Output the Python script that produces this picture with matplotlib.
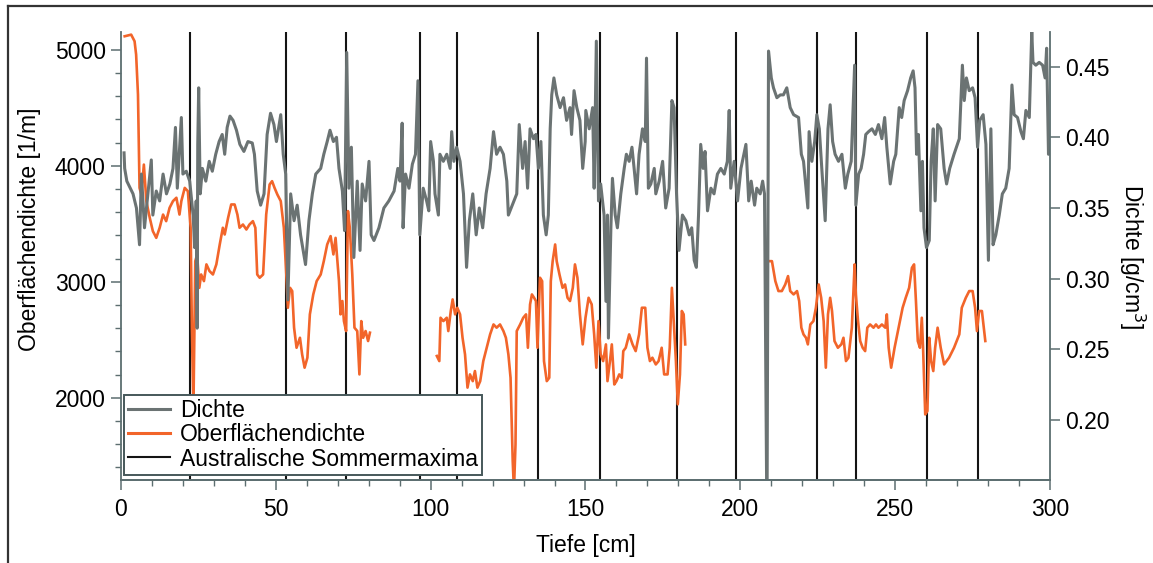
import numpy as np
import matplotlib
matplotlib.use('Agg')
import matplotlib.pyplot as plt
from matplotlib.ticker import MultipleLocator, FormatStrFormatter
from matplotlib.lines import Line2D

plt.rcParams['font.family'] = ['Liberation Sans', 'DejaVu Sans']
plt.rcParams['font.size'] = 16.5

# Dichte [g/cm^3] (right axis)
dichte_x = [1.0, 1.2, 1.9, 3.9, 5.0, 6.0, 6.6, 7.6, 8.7, 9.8, 10.3, 11.4, 12.5, 13.6, 14.7, 15.8, 16.8, 17.6,
            18.2, 19.5, 20.0, 21.1, 22.2, 23.3, 23.8, 24.3, 24.6, 24.8, 25.1, 25.6, 26.3, 27.4, 28.5, 29.5,
            30.6, 31.7, 32.7, 33.5, 34.3, 35.2, 36.2, 37.3, 38.4, 39.7, 41.0, 42.4, 43.1, 44.0, 45.1, 46.2,
            47.2, 48.3, 49.4, 50.2, 51.6, 52.4, 53.2, 53.9, 54.8, 55.9, 56.9, 58.0, 59.6, 60.7, 61.8, 62.9,
            64.5, 65.5, 66.6, 67.5, 68.6, 69.6, 70.4, 71.5, 72.2, 72.9, 73.6, 74.4, 75.2, 76.3, 77.2, 77.9,
            79.0, 80.1, 80.8, 81.7, 83.3, 84.9, 86.5, 88.2, 89.4, 90.1, 90.8, 91.1, 91.9, 93.0, 94.1, 95.1,
            95.9, 96.5, 97.6, 98.7, 99.4, 100.0, 100.9, 101.4, 102.5, 103.0, 104.1, 105.2, 106.3, 106.8,
            107.5, 108.4, 109.5, 110.6, 111.6, 112.5, 113.6, 114.7, 115.7, 116.8, 117.9, 119.2, 120.3,
            121.3, 122.4, 123.5, 124.6, 125.1, 127.8, 128.6, 129.7, 130.5, 131.3, 132.1, 133.2, 134.0,
            134.8, 135.6, 136.4, 137.3, 138.0, 138.6, 139.1, 139.8, 140.7, 141.8, 142.9, 143.9, 145.0,
            145.5, 146.3, 147.2, 148.2, 149.1, 149.9, 150.1, 151.2, 152.3, 152.8, 153.5, 154.2, 154.9,
            156.0, 156.6, 157.1, 157.4, 158.2, 158.7, 159.6, 160.3, 161.4, 162.5, 163.2, 164.1, 165.0,
            165.7, 166.5, 167.3, 168.4, 169.3, 169.7, 170.3, 171.1, 172.2, 172.7, 173.8, 174.9, 175.9,
            177.0, 177.9, 178.6, 179.4, 180.2, 181.3, 182.4, 183.5, 184.3, 185.1, 185.8, 186.5, 187.2,
            188.0, 188.6, 189.4, 190.5, 191.5, 192.6, 193.7, 194.8, 195.8, 196.4, 196.9, 198.0, 199.1,
            200.2, 201.8, 202.7, 203.5, 204.6, 205.3, 206.4, 207.2, 207.8, 208.6, 209.1, 210.0, 210.7,
            211.8, 212.9, 213.9, 215.0, 216.1, 217.2, 218.8, 219.7, 220.4, 221.2, 221.8, 222.2, 223.1,
            224.0, 224.7, 225.5, 226.3, 227.4, 228.3, 229.0, 229.8, 230.6, 231.7, 232.8, 233.9, 234.7,
            235.8, 236.9, 237.3, 238.2, 239.0, 239.8, 240.5, 241.4, 242.5, 243.6, 244.6, 245.7, 246.6,
            247.3, 248.4, 249.5, 250.2, 251.3, 252.1, 252.9, 254.0, 255.0, 255.8, 256.4, 256.9, 257.5,
            258.3, 258.8, 259.3, 260.1, 261.0, 261.6, 262.3, 262.9, 263.7, 264.7, 265.8, 266.6, 267.6,
            269.0, 270.7, 271.7, 272.3, 273.0, 273.9, 275.0, 275.8, 276.6, 277.3, 278.4, 279.3, 280.1,
            280.9, 281.6, 282.5, 283.6, 284.6, 285.7, 286.8, 287.7, 288.4, 289.5, 290.6, 291.4, 292.2,
            293.3, 294.1, 294.5, 295.4, 296.5, 297.6, 298.4, 298.9, 299.5, 300.0]
dichte_y = [0.389, 0.378, 0.369, 0.360, 0.350, 0.324, 0.374, 0.336, 0.360, 0.384, 0.345, 0.362, 0.355, 0.374,
            0.360, 0.367, 0.378, 0.407, 0.364, 0.414, 0.374, 0.376, 0.369, 0.345, 0.322, 0.355, 0.265, 0.395,
            0.435, 0.360, 0.378, 0.369, 0.383, 0.376, 0.388, 0.397, 0.402, 0.388, 0.407, 0.415, 0.412, 0.405,
            0.395, 0.390, 0.397, 0.396, 0.388, 0.362, 0.352, 0.360, 0.402, 0.417, 0.409, 0.397, 0.416, 0.388,
            0.374, 0.285, 0.360, 0.341, 0.352, 0.331, 0.310, 0.341, 0.360, 0.374, 0.378, 0.388, 0.397, 0.405,
            0.397, 0.400, 0.378, 0.362, 0.334, 0.460, 0.364, 0.393, 0.315, 0.369, 0.320, 0.367, 0.355, 0.383,
            0.331, 0.327, 0.336, 0.350, 0.355, 0.362, 0.378, 0.369, 0.410, 0.336, 0.374, 0.364, 0.381, 0.388,
            0.440, 0.331, 0.364, 0.355, 0.348, 0.397, 0.383, 0.360, 0.345, 0.388, 0.383, 0.388, 0.378, 0.404,
            0.383, 0.393, 0.383, 0.360, 0.308, 0.341, 0.360, 0.331, 0.350, 0.336, 0.360, 0.378, 0.404, 0.388,
            0.393, 0.388, 0.369, 0.345, 0.360, 0.409, 0.378, 0.397, 0.364, 0.406, 0.399, 0.402, 0.378, 0.397,
            0.345, 0.331, 0.345, 0.406, 0.430, 0.442, 0.430, 0.421, 0.428, 0.412, 0.421, 0.402, 0.433, 0.421,
            0.412, 0.378, 0.397, 0.419, 0.406, 0.421, 0.364, 0.468, 0.355, 0.367, 0.345, 0.284, 0.345, 0.258,
            0.336, 0.371, 0.345, 0.336, 0.360, 0.378, 0.388, 0.383, 0.393, 0.378, 0.360, 0.388, 0.406, 0.397,
            0.456, 0.364, 0.367, 0.378, 0.360, 0.369, 0.383, 0.350, 0.364, 0.426, 0.421, 0.360, 0.320, 0.345,
            0.341, 0.331, 0.336, 0.313, 0.308, 0.345, 0.395, 0.378, 0.390, 0.348, 0.364, 0.360, 0.374, 0.378,
            0.374, 0.383, 0.419, 0.364, 0.383, 0.355, 0.378, 0.395, 0.355, 0.369, 0.352, 0.364, 0.360, 0.369,
            0.360, 0.120, 0.461, 0.442, 0.435, 0.428, 0.430, 0.430, 0.435, 0.421, 0.416, 0.414, 0.388, 0.383,
            0.364, 0.350, 0.404, 0.383, 0.397, 0.416, 0.406, 0.378, 0.341, 0.406, 0.423, 0.397, 0.388, 0.383,
            0.388, 0.364, 0.374, 0.383, 0.451, 0.352, 0.374, 0.378, 0.388, 0.402, 0.404, 0.406, 0.402, 0.409,
            0.399, 0.414, 0.393, 0.367, 0.383, 0.388, 0.421, 0.414, 0.426, 0.433, 0.442, 0.447, 0.435, 0.388,
            0.402, 0.348, 0.383, 0.336, 0.322, 0.327, 0.383, 0.406, 0.355, 0.409, 0.406, 0.378, 0.367, 0.378,
            0.388, 0.399, 0.451, 0.426, 0.442, 0.433, 0.435, 0.428, 0.393, 0.412, 0.416, 0.395, 0.313, 0.406,
            0.324, 0.331, 0.345, 0.360, 0.364, 0.378, 0.437, 0.416, 0.414, 0.404, 0.399, 0.419, 0.414, 0.475,
            0.453, 0.451, 0.453, 0.451, 0.442, 0.463, 0.388, 0.390]

# Oberflächendichte [1/m] (left axis), gaps where no data
ober_x = [1.2, 3.3, 4.4, 4.9, 5.5, 6.0, 6.6, 7.4, 8.2, 9.3, 10.3, 11.4, 12.5, 13.6, 14.6, 15.7, 16.8, 17.9,
          18.9, 19.5, 20.6, 21.6, 22.5, 22.9, 23.4, 24.0, 24.6, 25.3, 25.9, 26.8, 27.6, 28.6, 29.7, 30.8,
          31.9, 32.9, 33.5, 34.6, 35.6, 36.7, 37.6, 38.3, 39.4, 40.5, 41.5, 42.6, 43.4, 44.0, 44.8, 45.9,
          46.9, 48.0, 48.8, 49.6, 50.5, 51.6, 52.6, 53.5, 53.9, 54.6, 55.3, 55.9, 56.7, 57.8, 58.5, 59.3,
          60.2, 61.0, 62.1, 63.2, 64.5, 65.5, 66.6, 67.7, 68.6, 69.3, 70.4, 70.9, 71.5, 72.0, 72.7, 73.3,
          73.9, 74.7, 75.4, 76.3, 77.0, 77.6, 78.2, 79.0, 79.8, 80.4,
          91.0,
          102.0, 102.8, 103.2, 104.1, 105.2, 105.7, 106.5, 107.1, 107.9, 108.6, 109.5, 110.3, 111.1,
          111.9, 112.7, 113.6, 114.3, 115.1, 116.0, 117.0, 118.1, 119.2, 120.3, 121.3, 122.4, 123.5,
          124.3, 125.1, 125.8, 126.5, 126.9, 127.4, 127.8, 128.9, 129.9, 130.8, 131.4, 132.1, 132.7,
          133.4, 134.0, 134.5, 135.3, 136.0, 136.6, 137.5, 138.3, 138.8, 139.4, 140.2, 140.7, 141.6,
          142.6, 143.4, 144.2, 145.0, 145.9, 146.6, 147.4, 148.2, 149.1, 150.0, 151.0, 152.0, 152.8,
          153.5, 154.2, 154.9, 155.7, 156.6, 157.1, 157.9, 158.5, 159.3, 160.0, 160.9, 161.7, 162.2,
          163.0, 164.1, 165.2, 166.2, 167.3, 168.2, 169.3, 170.0, 170.8, 171.6, 172.7, 173.6, 174.6,
          175.4, 176.5, 177.2, 177.9, 178.6, 179.2, 179.8, 180.5, 181.1, 181.7, 182.2,
          195.0,
          209.3, 210.2, 211.3, 212.3, 213.4, 214.5, 215.4, 216.1, 217.2, 218.3, 219.0, 219.7, 220.4,
          221.2, 221.8, 222.6, 223.6, 224.4, 225.3, 226.1, 226.9, 227.6, 228.3, 229.0, 229.6, 230.4,
          231.5, 232.6, 233.3, 234.1, 234.9, 236.0, 236.9, 237.3, 238.0, 238.7, 239.5, 240.3, 241.0,
          241.9, 243.0, 243.8, 244.6, 245.7, 246.8, 247.3, 247.9, 248.7, 249.8, 250.9, 252.0, 252.4,
          253.4, 254.5, 255.4, 256.1, 256.7, 257.3, 258.0, 258.6, 259.0, 259.7, 260.4, 261.0, 261.6,
          262.3, 262.9, 263.7, 264.7, 265.8, 267.4, 269.0, 270.7, 271.5, 272.8, 273.9, 275.0, 275.8,
          276.4, 277.1, 278.0, 279.1]
ober_y = [5118, 5132, 5075, 4960, 4615, 3810, 3750, 4011, 3696, 3552, 3437, 3379, 3466, 3580, 3523, 3638,
          3696, 3725, 3580, 3696, 3810, 3782, 3466, 2604, 1900, 3178, 3236, 2948, 3063, 3006, 3150, 3092,
          3063, 3150, 3322, 3466, 3408, 3552, 3667, 3667, 3580, 3466, 3494, 3451, 3494, 3523, 3466, 3063,
          3035, 3063, 3580, 3839, 3868, 3810, 3753, 3696, 3466, 3006, 2776, 2948, 2920, 2604, 2431, 2517,
          2374, 2259, 2345, 2719, 2891, 3006, 3063, 3178, 3322, 3394, 3236, 3379, 3006, 2719, 2834, 2661,
          2575, 3610, 3466, 3063, 2604, 2575, 2201, 2661, 2517, 2575, 2489, 2561,
          np.nan,
          2360, 2316, 2690, 2661, 2690, 2575, 2748, 2848, 2719, 2776, 2719, 2517, 2374, 2087, 2201, 2143,
          2230, 2087, 2143, 2316, 2431, 2546, 2632, 2604, 2632, 2575, 2517, 2374, 2172, 1453, 1200, 1597,
          2575, 2632, 2690, 2719, 2431, 2805, 2891, 2862, 2834, 2431, 3035, 3006, 2316, 2143, 2172, 3006,
          3178, 3322, 3178, 3063, 2948, 2977, 2862, 2834, 2948, 3150, 3035, 2719, 2460, 2690, 2862, 2805,
          2546, 2259, 2661, 2374, 2316, 2460, 2143, 2316, 2460, 2114, 2143, 2201, 2172, 2402, 2431, 2546,
          2460, 2402, 2546, 2776, 2776, 2431, 2316, 2345, 2287, 2316, 2431, 2201, 2201, 2431, 2948, 2604,
          2316, 1943, 2201, 2748, 2719, 2460,
          np.nan,
          3178, 3178, 3006, 2920, 2920, 2977, 3049, 2920, 2891, 2920, 2834, 2604, 2546, 2517, 2460, 2632,
          2661, 2776, 2977, 2862, 2661, 2259, 2719, 2862, 2748, 2489, 2431, 2460, 2517, 2316, 2345, 2604,
          3150, 2891, 2661, 2489, 2431, 2402, 2604, 2632, 2604, 2632, 2604, 2632, 2604, 2719, 2431, 2259,
          2431, 2575, 2719, 2776, 2862, 2948, 3121, 3150, 2834, 2489, 2431, 2690, 2431, 1856, 1885, 2517,
          2316, 2230, 2431, 2604, 2431, 2287, 2345, 2431, 2546, 2776, 2862, 2920, 2920, 2776, 2575, 2748,
          2748, 2489]

# Australische Sommermaxima [cm]
sommer_x = [22.3, 53.3, 72.8, 96.5, 108.4, 134.7, 154.7, 179.7, 198.6, 224.6, 237.3, 260.3, 276.6]

spine_col = '#5c6e70'
gray = '#6b7373'
orange = '#f2652a'
fs = 16.5

fig = plt.figure(figsize=(11.53, 5.63), dpi=100)
ax = fig.add_axes([0.1049, 0.1474, 0.8058, 0.7958])
ax2 = ax.twinx()

for xv in sommer_x:
    ax.axvline(xv, color='#141414', lw=1.5, zorder=1)
ax.plot(ober_x, ober_y, color=orange, lw=1.9, zorder=2)
ax2.plot(dichte_x, dichte_y, color=gray, lw=2.2)

ax.set_xlim(0, 300)
ax.set_ylim(1290, 5155)
ax2.set_ylim(0.1576, 0.4745)

ax.xaxis.set_major_locator(MultipleLocator(50))
ax.xaxis.set_minor_locator(MultipleLocator(10))
ax.yaxis.set_major_locator(MultipleLocator(1000))
ax.yaxis.set_minor_locator(MultipleLocator(200))
ax2.set_yticks([0.20, 0.25, 0.30, 0.35, 0.40, 0.45])
ax2.yaxis.set_major_formatter(FormatStrFormatter('%.2f'))

for a in (ax, ax2):
    a.spines['top'].set_visible(False)
    for s in ('left', 'right', 'bottom'):
        a.spines[s].set_color(spine_col)
        a.spines[s].set_linewidth(1.3)
    a.tick_params(which='major', length=7, width=1.1, color=spine_col, labelsize=fs, pad=4)
    a.tick_params(which='minor', length=4, width=1.0, color=spine_col)
ax.tick_params(axis='x', which='major', pad=6)
ax2.spines['left'].set_visible(False)
ax.spines['right'].set_visible(False)

ax.set_xlabel('Tiefe [cm]', fontsize=fs, labelpad=9)
ax.set_ylabel('Oberflächendichte [1/m]', fontsize=fs)
ax.yaxis.set_label_coords(-0.086, 0.56)
ax2.set_ylabel('Dichte [g/cm$^3$]', fontsize=fs, rotation=270, va='center')
ax2.yaxis.set_label_coords(1.088, 0.5)

handles = [Line2D([], [], color=gray, lw=2.2),
           Line2D([], [], color=orange, lw=2.2),
           Line2D([], [], color='#141414', lw=1.5)]
leg = ax2.legend(handles, ['Dichte', 'Oberflächendichte', 'Australische Sommermaxima'],
                 loc='lower left', bbox_to_anchor=(0.003, 0.011), borderaxespad=0,
                 fontsize=fs, fancybox=False, framealpha=1, edgecolor='#46585a',
                 handlelength=1.8, handletextpad=0.45, labelspacing=0.05, borderpad=0.2)
leg.get_frame().set_linewidth(1.4)

# frame around the figure
fig.add_artist(Line2D([0.0069, 0.0069], [0.0, 0.989], color='#333333', lw=1.6))
fig.add_artist(Line2D([0.0069, 1.0], [0.989, 0.989], color='#333333', lw=1.6))

fig.savefig('out.png', dpi=100)
